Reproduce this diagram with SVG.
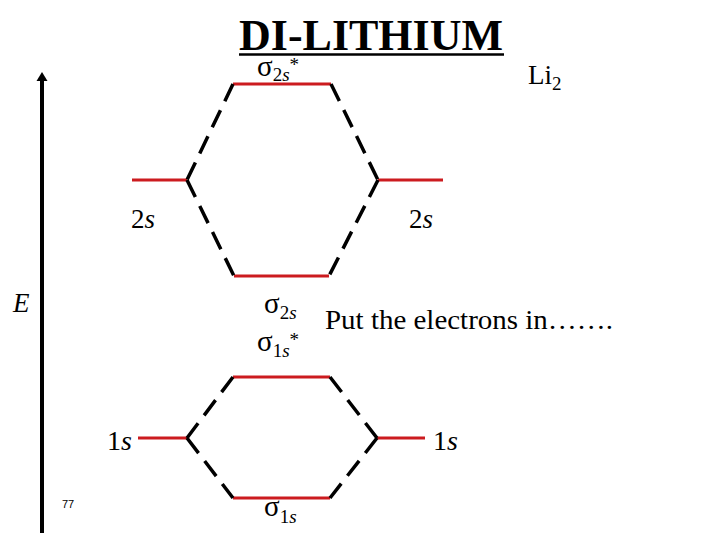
<svg xmlns="http://www.w3.org/2000/svg" width="720" height="540" viewBox="0 0 720 540">
<style>
.lvl{stroke:#cc1b1f;stroke-width:3;fill:none}
.dash{stroke:#000;stroke-width:3.5;fill:none;stroke-dasharray:19 10}
.t{font-family:"Liberation Serif","Times New Roman",serif;fill:#000}
.it{font-style:italic}
.lbl{font-size:27px}
.sg{font-size:29px}
.sub{font-size:19px}
</style>
<rect width="720" height="540" fill="#fff"/>

<g id="title">
<text class="t" x="239" y="50" font-size="44" font-weight="bold">DI-LITHIUM</text>
<line x1="239" y1="54.5" x2="504" y2="54.5" stroke="#000" stroke-width="2.5"/>
</g>
<g id="molecule">
<text class="t lbl" x="528" y="84">Li<tspan class="sub" dy="6">2</tspan></text>
</g>

<g id="energy-axis">
<line x1="42" y1="533" x2="42" y2="79" stroke="#000" stroke-width="4"/>
<polygon points="42,72 36.5,81 47.5,81" fill="#000"/>
<text class="t lbl it" x="13" y="312">E</text>
</g>
<text id="page" x="62" y="508" font-family="Liberation Sans, Arial, sans-serif" font-size="11">77</text>

<g id="sigma2s-star">
<line class="lvl" x1="233" y1="84" x2="331" y2="84"/>
<text class="t sg" x="257" y="76">σ<tspan class="sub" dy="5">2<tspan class="it">s</tspan></tspan><tspan class="sub" dy="-10">*</tspan></text>
</g>
<g id="left-2s">
<line class="lvl" x1="132" y1="180" x2="187" y2="180"/>
<text class="t lbl" x="131" y="228">2<tspan class="it">s</tspan></text>
</g>
<g id="right-2s">
<line class="lvl" x1="378" y1="180" x2="443" y2="180"/>
<text class="t lbl" x="409" y="228">2<tspan class="it">s</tspan></text>
</g>
<g id="sigma2s">
<line class="lvl" x1="234" y1="276" x2="329" y2="276"/>
<text class="t sg" x="264" y="313">σ<tspan class="sub" dy="6">2<tspan class="it">s</tspan></tspan></text>
</g>
<text id="note" class="t" font-size="28" x="325" y="329" textLength="288" lengthAdjust="spacingAndGlyphs">Put the electrons in…….</text>

<g id="sigma1s-star">
<line class="lvl" x1="233" y1="377" x2="330" y2="377"/>
<text class="t sg" x="257" y="351">σ<tspan class="sub" dy="6">1<tspan class="it">s</tspan></tspan><tspan class="sub" dy="-11">*</tspan></text>
</g>
<g id="left-1s">
<line class="lvl" x1="138" y1="438" x2="187" y2="438"/>
<text class="t" font-size="28" x="107" y="450">1<tspan class="it">s</tspan></text>
</g>
<g id="right-1s">
<line class="lvl" x1="377" y1="438" x2="425" y2="438"/>
<text class="t" font-size="28" x="433" y="450">1<tspan class="it">s</tspan></text>
</g>
<g id="sigma1s">
<line class="lvl" x1="233" y1="498" x2="330" y2="498"/>
<text class="t sg" x="264" y="516">σ<tspan class="sub" dy="7">1<tspan class="it">s</tspan></tspan></text>
</g>

<g id="connectors">
<path class="dash" d="M233,84 L187,180"/>
<path class="dash" d="M331,84 L378,180"/>
<path class="dash" d="M187,180 L234,276"/>
<path class="dash" d="M378,180 L329,276"/>
<path class="dash" d="M233,377 L187,438"/>
<path class="dash" d="M187,438 L233,498"/>
<path class="dash" d="M330,377 L377,438"/>
<path class="dash" d="M377,438 L330,498"/>
</g>
</svg>
